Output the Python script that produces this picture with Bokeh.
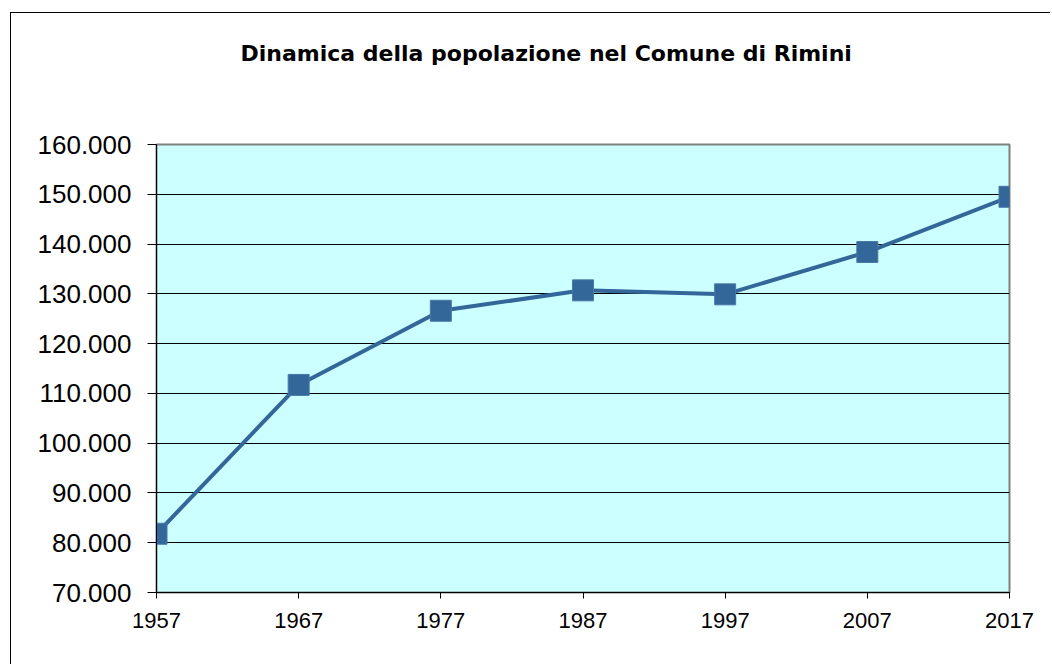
from bokeh.plotting import figure
from bokeh.models import FixedTicker, Range1d, Title
from bokeh.embed import file_html
from bokeh.resources import INLINE

years = [1957, 1967, 1977, 1987, 1997, 2007, 2017]
population = [81800, 111700, 126600, 130700, 129900, 138400, 149500]
y_ticks = [70000, 80000, 90000, 100000, 110000, 120000, 130000, 140000, 150000, 160000]
y_tick_labels = ["70.000", "80.000", "90.000", "100.000", "110.000", "120.000",
                 "130.000", "140.000", "150.000", "160.000"]
title_text = "Dinamica della popolazione nel Comune di Rimini"

p = figure(width=1040, height=652, output_backend="svg", toolbar_location=None,
           x_range=Range1d(1957, 2017), y_range=Range1d(70000, 160000),
           min_border_left=145, min_border_top=131, min_border_right=42, min_border_bottom=73)
p.styles = {"border-left": "1px solid #000000", "border-top": "1px solid #000000",
            "margin-left": "10px", "margin-top": "12px"}

p.title = Title(text=title_text, align="left", offset=84, standoff=20,
                text_font="DejaVu Sans", text_font_size="22px", text_font_style="bold",
                text_color="#000000")
spacer = Title(text=" ", text_font_size="1px", standoff=66)
p.add_layout(spacer, "above")

p.background_fill_color = "#CCFFFF"
p.border_fill_color = "#FFFFFF"
p.outline_line_color = "#808080"
p.outline_line_width = 2

p.xgrid.visible = False
p.ygrid.ticker = FixedTicker(ticks=y_ticks)
p.ygrid.grid_line_color = "#000000"
p.ygrid.grid_line_width = 1

p.yaxis.ticker = FixedTicker(ticks=y_ticks)
p.yaxis.major_label_overrides = {t: l for t, l in zip(y_ticks, y_tick_labels)}
p.yaxis.major_label_text_font = "Liberation Sans"
p.yaxis.major_label_text_font_size = "26px"
p.yaxis.major_label_text_color = "#000000"
p.yaxis.major_label_standoff = 16
p.yaxis.major_tick_out = 9
p.yaxis.major_tick_in = 0
p.yaxis.minor_tick_out = 0
p.yaxis.minor_tick_in = 0
p.yaxis.axis_line_color = "#000000"
p.yaxis.major_tick_line_color = "#000000"

p.xaxis.ticker = FixedTicker(ticks=years)
p.xaxis.major_label_overrides = {y: str(y) for y in years}
p.xaxis.major_label_text_font = "Liberation Sans"
p.xaxis.major_label_text_font_size = "22px"
p.xaxis.major_label_text_color = "#000000"
p.xaxis.major_label_standoff = 14
p.xaxis.major_tick_out = 6
p.xaxis.major_tick_in = 0
p.xaxis.minor_tick_out = 0
p.xaxis.minor_tick_in = 0
p.xaxis.axis_line_color = "#000000"
p.xaxis.major_tick_line_color = "#000000"

p.line(years, population, line_color="#336699", line_width=4)
p.scatter(years, population, marker="square", size=21, fill_color="#336699",
          line_color="#4A78A8", line_width=1)

open("out.html", "w").write(file_html(p, INLINE))
